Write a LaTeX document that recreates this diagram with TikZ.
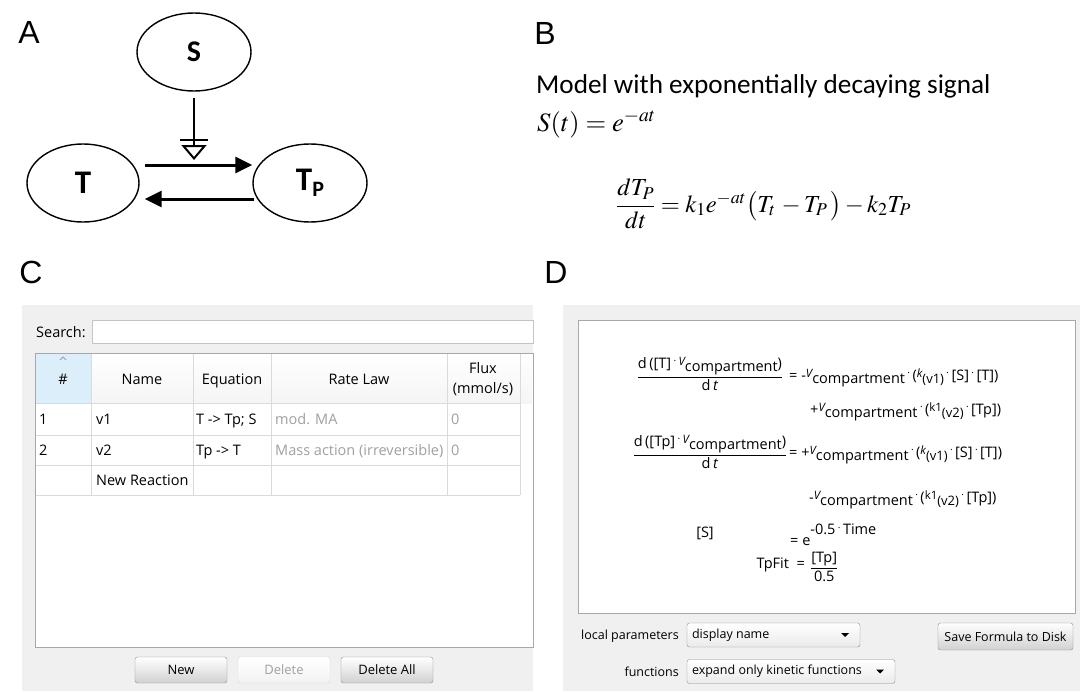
\documentclass[tikz,border=0pt]{standalone}
\usepackage{amsmath}
\usepackage{mathptmx}
\usepackage{fontspec}
\setmainfont{Liberation Serif}
\newfontfamily\labfont{Liberation Sans}
\newfontfamily\calfont{Carlito}
\newfontfamily\uifont{Open Sans}
\usetikzlibrary{arrows.meta,shapes.geometric,calc}
\definecolor{panelgray}{HTML}{F0F0F0}
\definecolor{tableborder}{HTML}{A8A8A8}
\definecolor{fieldborder}{HTML}{C4C4C4}
\definecolor{gridline}{HTML}{DADADA}
\definecolor{hashblue}{HTML}{DDEEFB}
\definecolor{greytext}{HTML}{A0A0A0}
\definecolor{btnborder}{HTML}{8E8E8E}
\newcommand\Vc{\raisebox{2.5pt}{\fontsize{11.5}{11}\selectfont\itshape V}\raisebox{-3pt}{compartment}}
\newcommand\kvi{\raisebox{2.5pt}{\fontsize{11.5}{11}\selectfont\itshape k}\raisebox{-3pt}{\fontsize{13}{13}\selectfont (v1)}}
\newcommand\kvii{\raisebox{2.5pt}{\fontsize{11.5}{11}\selectfont k1}\raisebox{-3pt}{\fontsize{13}{13}\selectfont (v2)}}
\newcommand\cdt{\,\raisebox{3.5pt}{\fontsize{10}{10}\selectfont\textperiodcentered}\,}
\begin{document}
\begin{tikzpicture}[x=1pt,y=-1pt,
  panellabel/.style={font=\labfont\fontsize{32}{36}\selectfont, inner sep=0},
  species/.style={draw, ellipse, line width=1.4pt, minimum width=114pt, minimum height=78pt, inner sep=0, font=\calfont\bfseries\fontsize{33}{34}\selectfont},
  conn/.style={line width=3pt, -{Triangle[length=17pt,width=16pt]}},
  modline/.style={line width=2pt, -{Bar[width=28pt,sep=4pt]Triangle[open,length=15pt,width=25pt]}},
  uitext/.style={font=\uifont\fontsize{14.5}{16}\selectfont, inner sep=0},
  dtext/.style={font=\uifont\fontsize{14.5}{16}\selectfont, inner sep=0},
  ctrltext/.style={font=\uifont\fontsize{12.5}{14}\selectfont, inner sep=0},
  btn/.style={draw=btnborder, rounded corners=2.5pt, top color=white, bottom color=black!18, inner sep=0},
  ddown/.style={draw=btnborder, rounded corners=2.5pt, top color=white, bottom color=black!8, inner sep=0},
  grid/.style={draw=gridline, line width=0.8pt},
  greycell/.style={uitext, text=greytext},
  ]
\useasboundingbox (0,0) rectangle (1084,693);
\fill[white] (0,0) rectangle (1084,693);

% ---------------- Panel A ----------------
\node[panellabel] (labA) at (29,32) {A};
\node[species, font=\calfont\bfseries\fontsize{30}{32}\selectfont] (S) at (194,52) {S};
\node[species, minimum width=112pt] (T) at (83,183) {T};
\node[species] (Tp) at (310,183) {T\raisebox{-6pt}{\fontsize{22}{22}\selectfont P}};
\coordinate (modtip) at (194,160);
\draw[conn] ($(T.east)+(5,-18)$) -- ($(Tp.west)+(0,-18)$);
\draw[conn] ($(Tp.west)+(2,16)$) -- ($(T.east)+(5,16)$);
\draw[modline] ($(S.south)+(0,6)$) -- (modtip);

% ---------------- Panel B ----------------
\node[panellabel] (labB) at (545,33) {B};
\node[anchor=base west, inner sep=0, font=\calfont\fontsize{27.2}{30}\selectfont] (model) at (536,93) {Model with exponentially decaying signal};
\node[anchor=base west, inner sep=0, font=\fontsize{26.5}{30}\selectfont] (st) at (537,131) {$S(t)=e^{-at}$};
\node[anchor=west, inner sep=0, font=\fontsize{24.5}{28}\selectfont] (ode) at (616,204) {$\dfrac{dT_P}{dt}=k_1e^{-at}\bigl(T_t\,-T_P\,\bigr)-k_2T_P$};

% ---------------- Panel C ----------------
\node[panellabel] (labC) at (31,272) {C};
\fill[panelgray] (22,305) rectangle (533,691);
\node[uitext, anchor=west] (search) at (36,332) {Search:};
\node[draw=fieldborder, fill=white, minimum width=441pt, minimum height=23pt, inner sep=0] (field) at (312.5,331.5) {};
\draw[draw=tableborder, fill=white, line width=0.9pt] (35,353) rectangle (533,647);
\fill[hashblue] (36,354) rectangle (91,403);
\shade[top color=white, bottom color=black!4] (91,354) rectangle (532,403);
% grid
\foreach \xx in {91,193,271,447,520} \draw[grid] (\xx,354) -- (\xx,495);
\foreach \yy in {403,435,465,495} \draw[grid] (36,\yy) -- (520,\yy);
\draw[greytext, line width=0.8pt] (60,360) -- (63,357) -- (66,360);
\node[uitext, anchor=base] (hhash) at (63,384) {\#};
\node[uitext, anchor=base] (hname) at (142,384) {Name};
\node[uitext, anchor=base] (heq) at (232,384) {Equation};
\node[uitext, anchor=base] (hrate) at (359,384) {Rate Law};
\node[uitext, anchor=base] (hflux) at (483,373) {Flux};
\node[uitext, anchor=base] (hmmol) at (483,393) {(mmol/s)};
\node[uitext, anchor=base west] (r1a) at (39,424) {1};
\node[uitext, anchor=base west] (r1b) at (96,424) {v1};
\node[uitext, anchor=base west] (r1c) at (196,424) {T -> Tp;\ S};
\node[greycell, anchor=base west] (r1d) at (275,424) {mod. MA};
\node[greycell, anchor=base west] (r1e) at (451,424) {0};
\node[uitext, anchor=base west] (r2a) at (39,455) {2};
\node[uitext, anchor=base west] (r2b) at (96,455) {v2};
\node[uitext, anchor=base west] (r2c) at (196,455) {Tp -> T};
\node[greycell, anchor=base west] (r2d) at (275,455) {Mass action (irreversible)};
\node[greycell, anchor=base west] (r2e) at (451,455) {0};
\node[uitext, anchor=base west] (r3b) at (96,485) {New Reaction};
\node[btn, minimum width=92pt, minimum height=26pt, font=\uifont\fontsize{13}{15}\selectfont] (bnew) at (181,670) {New};
\node[btn, draw=gridline, top color=white, bottom color=black!5, minimum width=92pt, minimum height=26pt, font=\uifont\fontsize{13}{15}\selectfont, text=greytext] (bdel) at (284,670) {Delete};
\node[btn, minimum width=92pt, minimum height=26pt, font=\uifont\fontsize{13}{15}\selectfont] (bdelall) at (387,670) {Delete All};

% ---------------- Panel D ----------------
\node[panellabel] (labD) at (556,272) {D};
\fill[panelgray] (563,305) rectangle (1080,691);
\draw[draw=tableborder, fill=white, line width=0.9pt] (578,320) rectangle (1075,613);
\node[dtext] (f1) at (710,374) {$\dfrac{\mbox{d\,([T]\cdt\Vc)}}{\mbox{d\,\textit{t}}}$};
\node[dtext, anchor=west] (rhs1) at (789,378) {=\ -\Vc\cdt(\kvi\cdt[S]\cdt[T])};
\node[dtext, anchor=west] (rhs2) at (810,412) {+\Vc\cdt(\kvii\cdt[Tp])};
\node[dtext] (f2) at (710,452) {$\dfrac{\mbox{d\,([Tp]\cdt\Vc)}}{\mbox{d\,\textit{t}}}$};
\node[dtext, anchor=west] (rhs3) at (789,455) {=\ +\Vc\cdt(\kvi\cdt[S]\cdt[T])};
\node[dtext, anchor=west] (rhs4) at (809,500) {-\Vc\cdt(\kvii\cdt[Tp])};
\node[dtext] (sl) at (705,533) {[S]};
\node[dtext, anchor=west] (sr) at (790,535) {=\ e\raisebox{11pt}{-0.5\cdt Time}};
\node[dtext, anchor=east] (tpfit) at (805,565) {TpFit\ \ =};
\node[dtext, anchor=west] (tpfr) at (810,567) {$\dfrac{\mbox{[Tp]}}{\mbox{0.5}}$};
\node[ctrltext, anchor=east] (lp) at (679,636) {local parameters};
\node[ddown, minimum width=173pt, minimum height=24pt] (dd1) at (773.5,635) {};
\node[ctrltext, anchor=west] (dd1t) at ($(dd1.west)+(5,0)$) {display name};
\fill ($(dd1.east)+(-19,-2)$) -- ($(dd1.east)+(-11,-2)$) -- ($(dd1.east)+(-15,2)$) -- cycle;
\node[btn, minimum width=135pt, minimum height=27pt, font=\uifont\fontsize{12.5}{14}\selectfont] (save) at (1005.5,636.5) {Save Formula to Disk};
\node[ctrltext, anchor=east] (fn) at (679,672) {functions};
\node[ddown, minimum width=208pt, minimum height=24pt] (dd2) at (791,671.5) {};
\node[ctrltext, anchor=west] (dd2t) at ($(dd2.west)+(5,0)$) {expand only kinetic functions};
\fill ($(dd2.east)+(-19,-2)$) -- ($(dd2.east)+(-11,-2)$) -- ($(dd2.east)+(-15,2)$) -- cycle;
\end{tikzpicture}
\end{document}
